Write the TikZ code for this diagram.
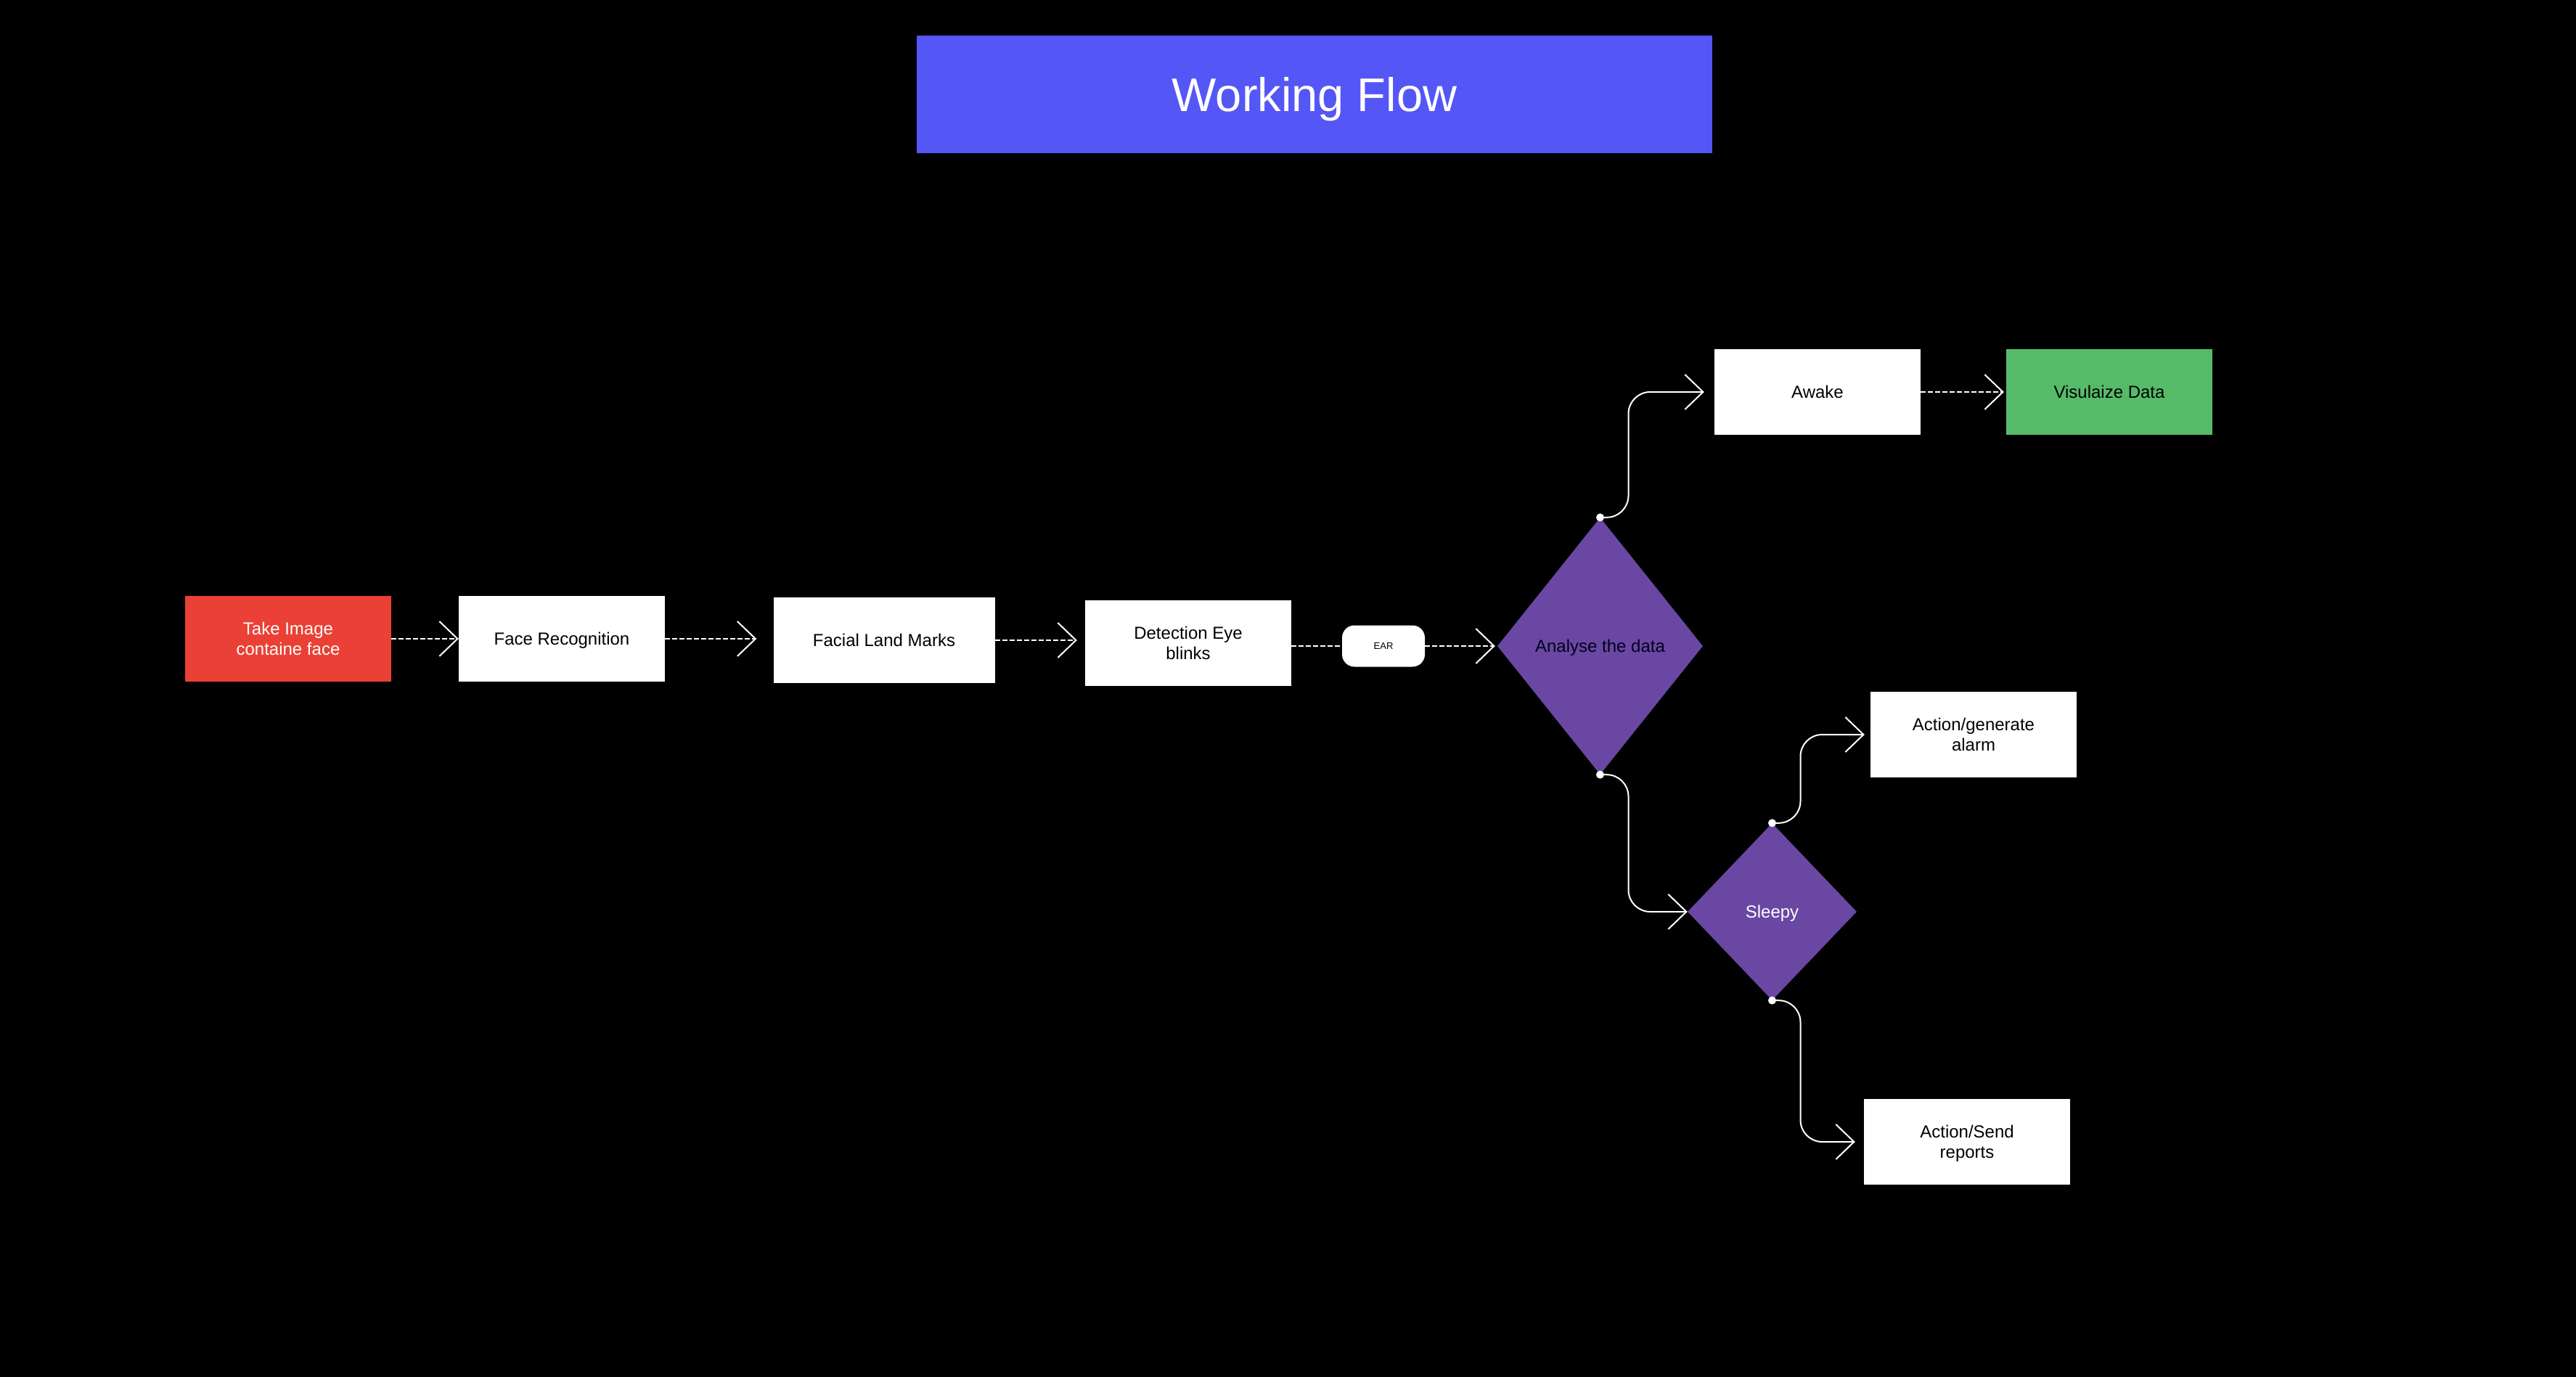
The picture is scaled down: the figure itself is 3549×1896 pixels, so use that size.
\documentclass[tikz,border=0pt]{standalone}
\usepackage{fontspec}
\setmainfont{Liberation Sans}
\usetikzlibrary{shapes.geometric,arrows.meta}
\definecolor{titleblue}{HTML}{5456F6}
\definecolor{takered}{HTML}{EA4035}
\definecolor{visgreen}{HTML}{56BB69}
\definecolor{decpurple}{HTML}{6A47A3}
\newcommand\wfbody{\fontsize{24}{28}\selectfont}
\begin{document}
\begin{tikzpicture}[x=1pt,y=-1pt,
  box/.style={rectangle, minimum width=284pt, minimum height=118pt, inner sep=0pt, align=center, font=\wfbody, fill=white, text=black, text depth=0pt},
  decision/.style={diamond, inner sep=0pt, align=center, font=\wfbody, fill=decpurple, text depth=0pt},
  dashflow/.style={draw=white, line width=2pt, dash pattern=on 7pt off 3pt},
  tipflow/.style={-{Straight Barb[length=25pt,width=48pt,line width=2pt]}},
  solidflow/.style={draw=white, line width=2pt, rounded corners=30pt},
  dotmark/.style={fill=white}
]
\useasboundingbox (0,0) rectangle (3549,1896);
\fill[black] (-10,-10) rectangle (3559,1906);

\node[rectangle, fill=titleblue, minimum width=1096pt, minimum height=162pt, inner sep=0pt, text depth=0pt,
      text=white, font=\fontsize{65}{78}\selectfont] (title) at (1811,130) {Working Flow};

\node[box, fill=takered, text=white] (take) at (397,880) {Take Image\\containe face};
\node[box] (face) at (774,880) {Face Recognition};
\node[box, minimum width=305pt] (facial) at (1218,882) {Facial Land Marks};
\node[box] (detect) at (1637,886) {Detection Eye\\blinks};
\node[rectangle, rounded corners=17pt, fill=white, minimum width=114pt, minimum height=57pt,
      inner sep=0pt, text depth=0pt, font=\fontsize{13}{15}\selectfont] (ear) at (1906,890) {EAR};
\node[decision, minimum width=283pt, minimum height=354pt, text=black!90!blue] (an) at (2204.5,890) {Analyse the data};
\node[box] (awake) at (2504,540) {Awake};
\node[box, fill=visgreen] (vis) at (2906,540) {Visulaize Data};
\node[decision, minimum width=233pt, minimum height=244pt, text=white] (sl) at (2441.5,1256) {Sleepy};
\node[box] (alarm) at (2719,1012) {Action/generate\\alarm};
\node[box] (rep) at (2710,1573) {Action/Send\\reports};

% dashed straight connectors
\draw[dashflow, tipflow] (take.east) -- (face.west);
\draw[dashflow, tipflow, shorten >=23pt] (face.east) -- (face.east -| facial.west);
\draw[dashflow, tipflow, shorten >=11pt] (facial.east) -- (facial.east -| detect.west);
\draw[dashflow] (detect.east |- ear.west) -- (ear.west);
\draw[dashflow, tipflow, shorten >=3pt] (ear.east) -- (an.west);
\draw[dashflow, tipflow, shorten >=3pt] (awake.east) -- (vis.west);

% curved solid connectors
\draw[solidflow, tipflow, shorten >=14pt] (an.north) -- ++(39,0) |- (awake.west);
\draw[solidflow, tipflow] (an.south) -- ++(39,0) |- (sl.west);
\draw[solidflow, tipflow, shorten >=8pt] (sl.north) -- ++(39,0) |- (alarm.west);
\draw[solidflow, tipflow, shorten >=12pt] (sl.south) -- ++(39,0) |- (rep.west);

\fill[dotmark] (an.north) circle (5.5pt);
\fill[dotmark] (an.south) circle (5.5pt);
\fill[dotmark] (sl.north) circle (5.5pt);
\fill[dotmark] (sl.south) circle (5.5pt);
\end{tikzpicture}
\end{document}
